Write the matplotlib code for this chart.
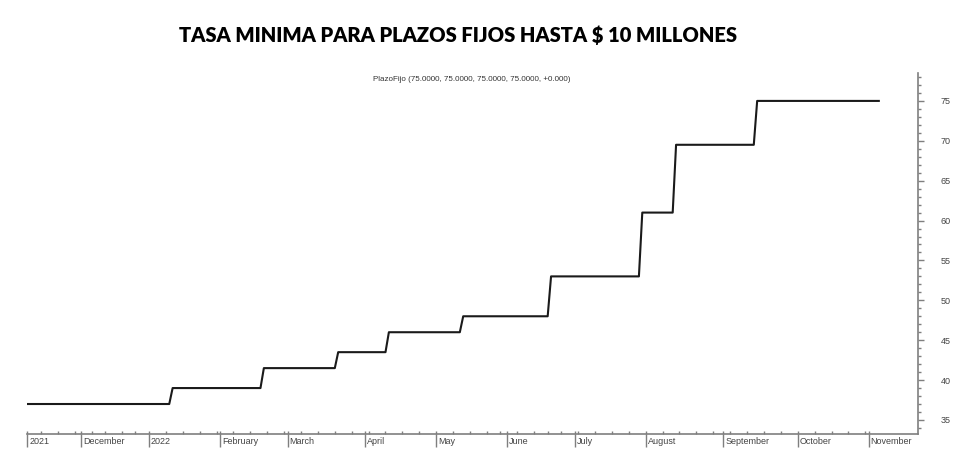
import numpy as np
import pandas as pd
import matplotlib
matplotlib.use('Agg')
import matplotlib.pyplot as plt
from matplotlib.transforms import blended_transform_factory

plt.rcParams['font.family'] = ['Liberation Sans', 'DejaVu Sans']

# fechas de cambio de tasa y tasa vigente desde esa fecha
change_dates = ['2021-11-09', '2022-01-12', '2022-02-18', '2022-03-22', '2022-04-12',
                '2022-05-12', '2022-06-22', '2022-07-29', '2022-08-12', '2022-09-15']
rates = [37, 39, 41.5, 43.5, 46, 48, 53, 61, 69.5, 75]
start_date = '2021-11-09'
end_date = '2022-11-04'
holidays = ['2021-12-08', '2021-12-24', '2021-12-31', '2022-05-25', '2022-06-17', '2022-06-20']

title = 'TASA MINIMA PARA PLAZOS FIJOS HASTA $ 10 MILLONES'
subtitle = 'PlazoFijo (75.0000, 75.0000, 75.0000, 75.0000, +0.000)'
month_names = ['January', 'February', 'March', 'April', 'May', 'June', 'July',
               'August', 'September', 'October', 'November', 'December']

# serie diaria (dias habiles) a partir de los cambios
days = pd.bdate_range(start_date, end_date)
days = days[~days.isin(pd.to_datetime(holidays))]
steps = pd.Series(rates, index=pd.to_datetime(change_dates))
serie = steps.reindex(days, method='ffill')
xs = np.arange(len(days))

fig = plt.figure(figsize=(9.8, 4.62), dpi=100)
ax = fig.add_axes([27 / 980, 28 / 462, 891 / 980, 361 / 462])
ax.plot(xs, serie.values, color='#1a1a1a', lw=1.5)

ax.set_xlim(-0.1, len(days) - 1 + 11.6)
ax.set_ylim(33.24, 78.5)

gris = '#7f7f7f'
for s in ['left', 'top']:
    ax.spines[s].set_visible(False)
for s in ['bottom', 'right']:
    ax.spines[s].set_color(gris)
    ax.spines[s].set_linewidth(1.2)

# eje y a la derecha
ax.yaxis.tick_right()
ax.set_yticks(np.arange(35, 80, 5))
ax.set_yticks(np.arange(34, 79, 1), minor=True)
ax.tick_params(axis='y', which='major', direction='out', length=4.5, width=1,
               color=gris, pad=12, labelsize=6.5, labelcolor='#444444')
ax.tick_params(axis='y', which='minor', direction='out', length=2.2, width=1, color=gris)

# eje x: meses y semanas
month_start = [i for i in range(len(days)) if i == 0 or days[i].month != days[i - 1].month]
week_start = [i for i in range(1, len(days)) if days[i].weekday() < days[i - 1].weekday()]
ax.xaxis.remove_overlapping_locs = False
ax.set_xticks(month_start)
ax.set_xticklabels([])
ax.set_xticks(sorted(set(week_start + month_start)), minor=True)
ax.tick_params(axis='x', which='major', direction='out', length=9.5, width=1, color=gris)
ax.tick_params(axis='x', which='minor', direction='in', length=2.2, width=1, color=gris)

trans = blended_transform_factory(ax.transData, ax.transAxes)
for i in month_start:
    d = days[i]
    lab = str(d.year) if (i == 0 or d.month == 1) else month_names[d.month - 1]
    ax.text(i + 0.6, -0.009, lab, transform=trans, ha='left', va='top',
            fontsize=6.5, color='#444444')

fig.text(0.467, 0.924, title, ha='center', va='center', fontsize=14.5,
         fontweight='heavy', family=['Lato', 'DejaVu Sans'])
fig.text(0.481, 0.829, subtitle, ha='center', va='center', fontsize=5.8, color='#333333')

fig.savefig('out.png', dpi=100)
